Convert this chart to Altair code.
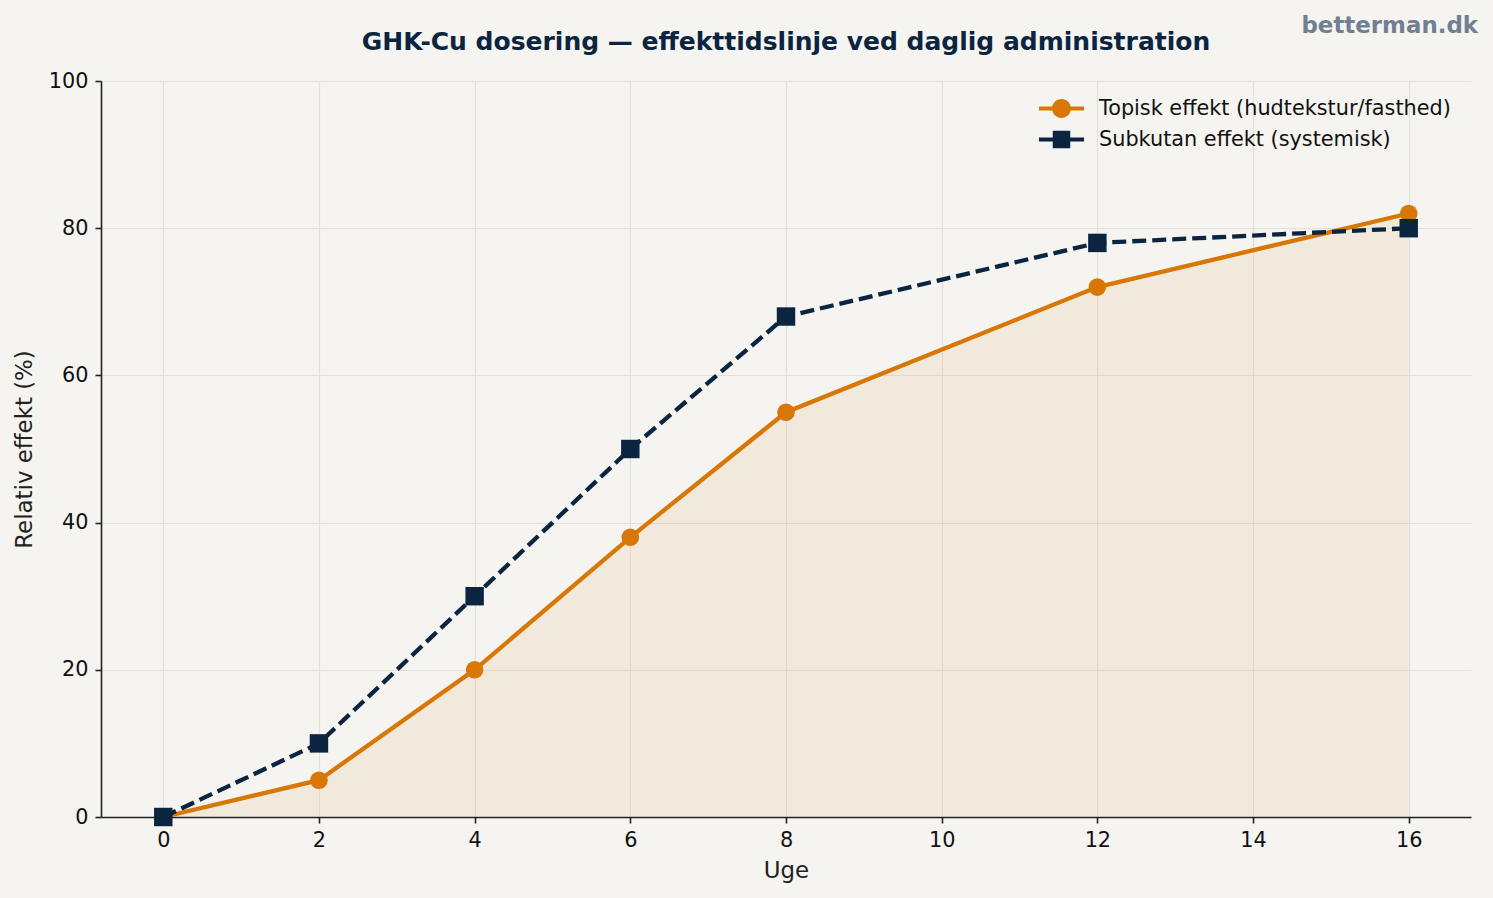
import altair as alt
import pandas as pd

# Weeks of daily administration and relative effect (%)
weeks = [0, 2, 4, 6, 8, 12, 16]
topisk = [0, 5, 20, 38, 55, 72, 82]
subkutan = [0, 10, 30, 50, 68, 78, 80]

series_names = ["Topisk effekt (hudtekstur/fasthed)", "Subkutan effekt (systemisk)"]
x_ticks = [0, 2, 4, 6, 8, 10, 12, 14, 16]
y_ticks = [0, 20, 40, 60, 80, 100]

title_text = "GHK-Cu dosering — effekttidslinje ved daglig administration"
brand_text = "betterman.dk"

ORANGE = "#D97706"
NAVY = "#0B2540"
BG = "#F5F4F0"
FONT = "DejaVu Sans"

W, H = 1370, 736

top_df = pd.DataFrame({"week": weeks, "value": topisk})
sub_df = pd.DataFrame({"week": weeks, "value": subkutan})
legend_df = pd.DataFrame({"series": series_names})

x_enc = alt.X(
    "week:Q",
    title="Uge",
    scale=alt.Scale(domain=[-0.8, 16.8], nice=False, zero=False),
    axis=alt.Axis(values=x_ticks, format="d"),
)
y_enc = alt.Y(
    "value:Q",
    title="Relativ effekt (%)",
    scale=alt.Scale(domain=[0, 100], nice=False),
    axis=alt.Axis(values=y_ticks, format="d"),
)

area = alt.Chart(top_df).mark_area(color=ORANGE, opacity=0.08).encode(x=x_enc, y=y_enc)

top_line = alt.Chart(top_df).mark_line(color=ORANGE, strokeWidth=4.3).encode(x=x_enc, y=y_enc)
top_pts = alt.Chart(top_df).mark_point(
    shape="circle", filled=True, color=ORANGE, size=310, opacity=1
).encode(x=x_enc, y=y_enc)

sub_line = alt.Chart(sub_df).mark_line(
    color=NAVY, strokeWidth=4.3, strokeDash=[14, 6]
).encode(x=x_enc, y=y_enc)
sub_pts = alt.Chart(sub_df).mark_point(
    shape="square", filled=True, color=NAVY, size=340, opacity=1
).encode(x=x_enc, y=y_enc)

# Legend glyphs: a short line segment with the series marker on top
circle_glyph = (
    "M-1.96,-0.18 H1.96 V0.18 H-1.96 Z "
    "M0.82,0 A0.82,0.82 0 1,1 -0.82,0 A0.82,0.82 0 1,1 0.82,0 Z"
)
square_glyph = "M-1.96,-0.18 H1.96 V0.18 H-1.96 Z M-0.76,-0.76 H0.76 V0.76 H-0.76 Z"

legend_layer = (
    alt.Chart(legend_df)
    .transform_filter("false")
    .mark_point(filled=True, opacity=1)
    .encode(
        color=alt.Color(
            "series:N",
            scale=alt.Scale(domain=series_names, range=[ORANGE, NAVY]),
            legend=alt.Legend(
                title=None,
                orient="none",
                legendX=949,
                legendY=16,
                padding=0,
                symbolSize=529,
                symbolStrokeWidth=0,
                symbolOpacity=1,
                labelFontSize=20.8,
                labelFont=FONT,
                labelColor="#111111",
                labelOffset=26,
                rowPadding=9,
                labelLimit=700,
            ),
        ),
        shape=alt.Shape(
            "series:N",
            scale=alt.Scale(domain=series_names, range=[circle_glyph, square_glyph]),
            legend=alt.Legend(title=None),
        ),
    )
)

title_mark = (
    alt.Chart(pd.DataFrame({"t": [title_text]}))
    .mark_text(
        align="center", baseline="alphabetic", fontSize=25, fontWeight="bold",
        color=NAVY, font=FONT,
    )
    .encode(text="t:N", x=alt.value(W / 2), y=alt.value(-31))
)

watermark = (
    alt.Chart(pd.DataFrame({"t": [brand_text]}))
    .mark_text(
        align="right", baseline="alphabetic", fontSize=22.9, fontWeight="bold",
        color="#708090", font=FONT,
    )
    .encode(text="t:N", x=alt.value(1377), y=alt.value(-48))
)

chart = (
    alt.layer(area, top_line, top_pts, sub_line, sub_pts, legend_layer, title_mark, watermark)
    .properties(
        width=W,
        height=H,
        background=BG,
        padding={"left": 101, "top": 81, "right": 22, "bottom": 81},
        autosize=alt.AutoSizeParams(type="none"),
    )
    .configure_view(stroke=None)
    .configure_axis(
        labelFont=FONT,
        titleFont=FONT,
        labelFontSize=20.8,
        titleFontSize=22.9,
        labelColor="#111111",
        titleColor="#222222",
        titleFontWeight="normal",
        domainColor="#222222",
        domainWidth=1.6,
        tickColor="#222222",
        tickWidth=1.6,
        tickSize=6,
        labelPadding=7,
        grid=True,
        gridColor="#E4E1DC",
        gridWidth=1.2,
    )
    .configure_axisX(titlePadding=10, labelFlush=False)
    .configure_axisY(titlePadding=12)
)

chart.save("out.html", embed_options={"renderer": "svg", "actions": False})
